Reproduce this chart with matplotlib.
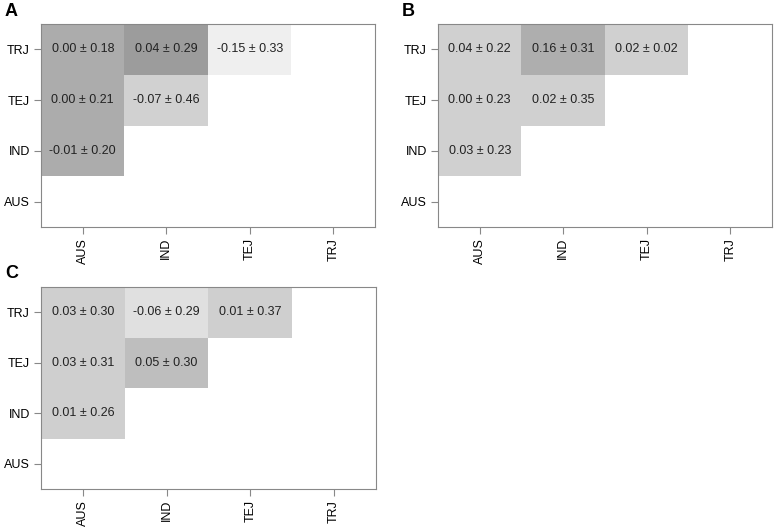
import numpy as np
from matplotlib import pyplot as plt
from matplotlib.colors import ListedColormap

groups = ['AUS', 'IND', 'TEJ', 'TRJ']

# cells as (column, row) pairs, lower triangle of the pairwise table
pairs = [('AUS', 'TRJ'), ('IND', 'TRJ'), ('TEJ', 'TRJ'),
         ('AUS', 'TEJ'), ('IND', 'TEJ'),
         ('AUS', 'IND')]

mean_A = [0.00, 0.04, -0.15, 0.00, -0.07, -0.01]
sd_A = [0.18, 0.29, 0.33, 0.21, 0.46, 0.20]
mean_B = [0.04, 0.16, 0.02, 0.00, 0.02, 0.03]
sd_B = [0.22, 0.31, 0.02, 0.23, 0.35, 0.23]
mean_C = [0.03, -0.06, 0.01, 0.03, 0.05, 0.01]
sd_C = [0.30, 0.29, 0.37, 0.31, 0.30, 0.26]

# grey level of each cell (0 black, 1 white)
shade_A = [0.675, 0.61, 0.935, 0.675, 0.82, 0.675]
shade_B = [0.815, 0.68, 0.815, 0.815, 0.815, 0.815]
shade_C = [0.81, 0.875, 0.81, 0.81, 0.745, 0.81]

panels = [('A', mean_A, sd_A, shade_A, [41, 24, 375, 227]),
          ('B', mean_B, sd_B, shade_B, [438, 24, 772, 227]),
          ('C', mean_C, sd_C, shade_C, [41, 287, 376, 489])]

W, H = 774, 530
fig = plt.figure(figsize=(W / 100, H / 100), dpi=100)
plt.rcParams['font.family'] = ['Liberation Sans', 'DejaVu Sans']

for letter, means, sds, shades, (x0, y0, x1, y1) in panels:
    ax = fig.add_axes([x0 / W, 1 - y1 / H, (x1 - x0) / W, (y1 - y0) / H])
    grid = np.full((4, 4), np.nan)
    for (c, r), s in zip(pairs, shades):
        grid[groups.index(r), groups.index(c)] = s
    ax.imshow(np.ma.masked_invalid(grid), cmap='gray', vmin=0, vmax=1,
              origin='lower', aspect='auto', interpolation='nearest',
              extent=(-0.5, 3.5, -0.5, 3.5))
    for (c, r), m, s in zip(pairs, means, sds):
        ax.text(groups.index(c), groups.index(r), '%.2f \u00b1 %.2f' % (m, s),
                ha='center', va='center', fontsize=9, color='#222222')
    ax.set_xlim(-0.5, 3.5)
    ax.set_ylim(-0.5, 3.5)
    ax.set_xticks(range(4))
    ax.set_xticklabels(groups, rotation=90)
    ax.set_yticks(range(4))
    ax.set_yticklabels(groups)
    ax.tick_params(length=5, color='#888888', labelsize=9, pad=3)
    for sp in ax.spines.values():
        sp.set_color('#888888')
    fig.text((x0 - 36) / W, 1 - (y0 - 13) / H, letter, fontsize=13,
             fontweight='bold', ha='left', va='center')

fig.savefig('out.png', dpi=100)
